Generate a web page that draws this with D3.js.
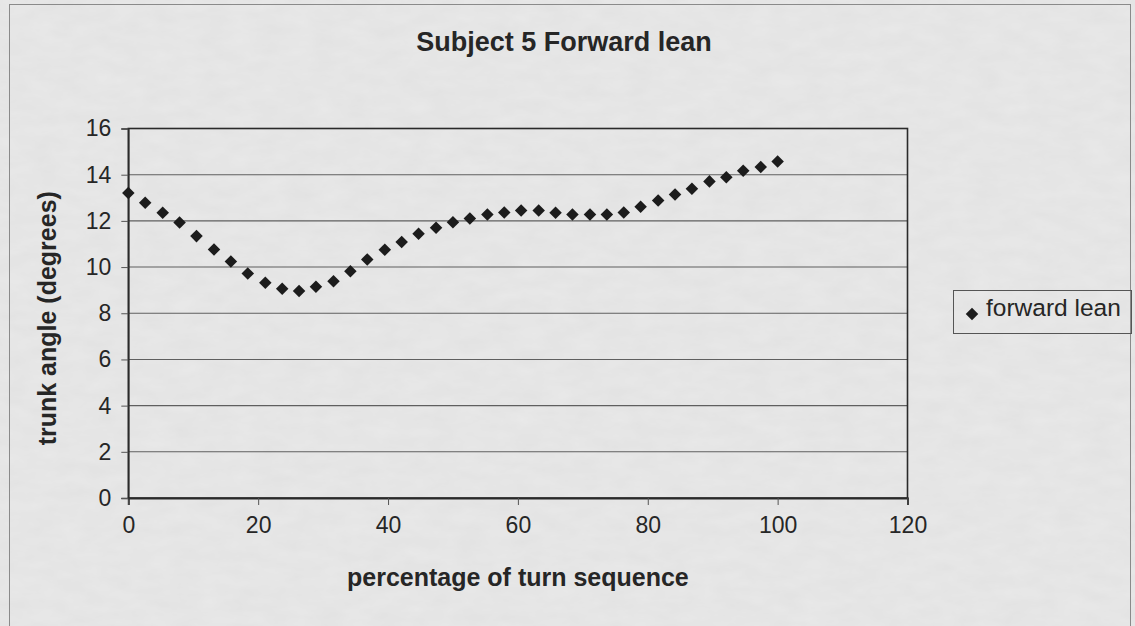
<!DOCTYPE html>
<html><head><meta charset="utf-8">
<script src="https://cdn.jsdelivr.net/npm/d3@7"></script>
<style>html,body{margin:0;padding:0;background:#e8e8e8;}svg{display:block;}</style>
</head><body>
<svg id="c" width="1135" height="626"></svg>
<script>
const title = "Subject 5 Forward lean";
const xTitle = "percentage of turn sequence";
const yTitle = "trunk angle (degrees)";
const seriesName = "forward lean";
const xTicks = [0, 20, 40, 60, 80, 100, 120];
const yTicks = [0, 2, 4, 6, 8, 10, 12, 14, 16];
const pct = [0, 2.6, 5.3, 7.9, 10.5, 13.2, 15.8, 18.4, 21.1, 23.7, 26.3, 28.9, 31.6, 34.2, 36.8, 39.5, 42.1, 44.7, 47.4, 50, 52.6, 55.3, 57.9, 60.5, 63.2, 65.8, 68.4, 71.1, 73.7, 76.3, 78.9, 81.6, 84.2, 86.8, 89.5, 92.1, 94.7, 97.4, 100];
const lean = [13.21, 12.78, 12.35, 11.93, 11.34, 10.76, 10.24, 9.72, 9.32, 9.06, 8.96, 9.15, 9.39, 9.82, 10.33, 10.75, 11.09, 11.44, 11.70, 11.94, 12.10, 12.28, 12.36, 12.45, 12.45, 12.35, 12.28, 12.28, 12.28, 12.36, 12.61, 12.88, 13.14, 13.39, 13.71, 13.89, 14.17, 14.33, 14.57];

const svg = d3.select("#c");
const L = 128.3, R = 907.5, T = 128.5, B = 498;
const x = d3.scaleLinear().domain([0, 120]).range([L, R]);
const y = d3.scaleLinear().domain([0, 16]).range([B, T]);
const font = "'Liberation Sans', Arial, sans-serif";
const ink = "#262626";

// paper texture
const defs = svg.append("defs");
const f = defs.append("filter").attr("id", "paper").attr("x", 0).attr("y", 0).attr("width", "100%").attr("height", "100%");
f.append("feTurbulence").attr("type", "fractalNoise").attr("baseFrequency", "0.035 0.08").attr("numOctaves", 3).attr("seed", 4).attr("result", "n");
f.append("feColorMatrix").attr("in", "n").attr("type", "matrix")
  .attr("values", "0 0 0 0 0.5  0 0 0 0 0.5  0 0 0 0 0.5  0 0 0 0.16 0");
svg.append("rect").attr("width", 1135).attr("height", 626).attr("fill", "#e9e9e9");
svg.append("rect").attr("width", 1135).attr("height", 626).attr("filter", "url(#paper)");

svg.append("rect").attr("x", 9.5).attr("y", 4.5).attr("width", 1121).attr("height", 640)
  .attr("fill", "none").attr("stroke", "#8a8a8a").attr("stroke-width", 1);

// gridlines
svg.append("g").selectAll("line").data(yTicks.filter(d => d > 0 && d < 16)).join("line")
  .attr("x1", L).attr("x2", R).attr("y1", d => y(d)).attr("y2", d => y(d))
  .attr("stroke", "#5f5f5f").attr("stroke-width", 1.1);

// plot border
svg.append("rect").attr("x", L).attr("y", T).attr("width", R - L).attr("height", B - T)
  .attr("fill", "none").attr("stroke", "#2a2a2a").attr("stroke-width", 1.6);

// axes
const xAxis = d3.axisBottom(x).tickValues(xTicks).tickSize(7).tickPadding(12).tickFormat(d3.format("d"));
const gx = svg.append("g").attr("transform", `translate(0,${B})`).call(xAxis);
gx.select(".domain").attr("stroke", "#2a2a2a").attr("stroke-width", 2);
gx.selectAll(".tick line").attr("stroke", "#555");
gx.selectAll("text").attr("font-family", font).attr("font-size", 23).attr("fill", ink);

const yAxis = d3.axisLeft(y).tickValues(yTicks).tickSize(7).tickPadding(10).tickFormat(d3.format("d"));
const gy = svg.append("g").attr("transform", `translate(${L},0)`).call(yAxis);
gy.select(".domain").attr("stroke", "#2a2a2a").attr("stroke-width", 1.6);
gy.selectAll(".tick line").attr("stroke", "#555");
gy.selectAll("text").attr("font-family", font).attr("font-size", 23).attr("fill", ink);

// points
const diamond = d3.symbol().type(d3.symbolDiamond2).size(100);
svg.append("g").selectAll("path").data(pct.map((p, i) => [p, lean[i]])).join("path")
  .attr("d", diamond).attr("transform", d => `translate(${x(d[0])},${y(d[1])})`)
  .attr("fill", "#1c1c1c");

// titles
svg.append("text").attr("x", 564).attr("y", 51).attr("text-anchor", "middle")
  .attr("font-family", font).attr("font-weight", "bold").attr("font-size", 27).attr("fill", ink).text(title);
svg.append("text").attr("x", (L + R) / 2).attr("y", 586).attr("text-anchor", "middle")
  .attr("font-family", font).attr("font-weight", "bold").attr("font-size", 25).attr("fill", ink).text(xTitle);
svg.append("text").attr("transform", `translate(56,${(T + B) / 2 + 5}) rotate(-90)`).attr("text-anchor", "middle")
  .attr("font-family", font).attr("font-weight", "bold").attr("font-size", 25).attr("fill", ink).text(yTitle);

// legend
const lg = svg.append("g");
lg.append("rect").attr("x", 953.5).attr("y", 290.5).attr("width", 178).attr("height", 43)
  .attr("fill", "none").attr("stroke", "#555").attr("stroke-width", 1);
lg.append("path").attr("d", diamond).attr("transform", "translate(972,314)").attr("fill", "#1c1c1c");
lg.append("text").attr("x", 986).attr("y", 316).attr("font-family", font).attr("font-size", 24.5)
  .attr("fill", ink).text(seriesName);
</script>
</body></html>
